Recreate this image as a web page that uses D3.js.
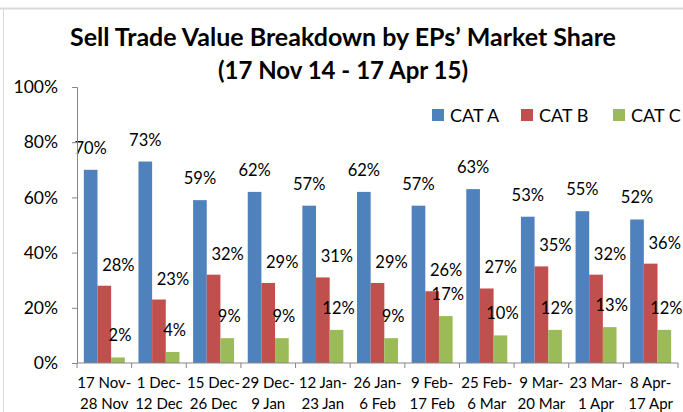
<!DOCTYPE html>
<html>
<head>
<meta charset="utf-8">
<script src="https://cdn.jsdelivr.net/npm/d3@7"></script>
<style>
  body { margin: 0; background: #fff; }
  svg { display: block; font-family: Lato, "Open Sans", sans-serif; }
</style>
</head>
<body>
<div class="container"></div>
<script>
const periodStart = ["17 Nov-", "1 Dec-", "15 Dec-", "29 Dec-", "12 Jan-", "26 Jan-", "9 Feb-", "25 Feb-", "9 Mar-", "23 Mar-", "8 Apr-"];
const periodEnd = ["28 Nov", "12 Dec", "26 Dec", "9 Jan", "23 Jan", "6 Feb", "17 Feb", "6 Mar", "20 Mar", "1 Apr", "17 Apr"];
const seriesNames = ["CAT A", "CAT B", "CAT C"];
const catA = [70, 73, 59, 62, 57, 62, 57, 63, 53, 55, 52];
const catB = [28, 23, 32, 29, 31, 29, 26, 27, 35, 32, 36];
const catC = [2, 4, 9, 9, 12, 9, 17, 10, 12, 13, 12];
const yTicks = [0, 20, 40, 60, 80, 100];

const w = 683, h = 412;
const margin = { top: 87, bottom: 49, left: 77, right: 5 };
const colors = ["#4F81BD", "#C0504D", "#9BBB59"];
// label nudges per series (dx from bar centre, dy above bar top)
const labelOffset = [{ dx: 0, dy: 16 }, { dx: 14, dy: 15 }, { dx: 2, dy: 16 }];

const rows = periodStart.map((p, i) => ({
  key: i,
  values: [catA[i], catB[i], catC[i]]
}));

const svg = d3.select(".container")
  .append("svg")
  .attr("width", w)
  .attr("height", h)
  .attr("viewBox", [0, 0, w, h]);

// chart frame edges
svg.append("line").attr("x1", 0).attr("x2", w).attr("y1", 8.5).attr("y2", 8.5)
  .attr("stroke", "#d9d9d9").attr("stroke-width", 2);
svg.append("line").attr("x1", 3.5).attr("x2", 3.5).attr("y1", 8).attr("y2", h)
  .attr("stroke", "#d9d9d9").attr("stroke-width", 1);

const x0 = d3.scaleBand()
  .domain(d3.range(periodStart.length))
  .range([margin.left, w - margin.right])
  .paddingInner(0).paddingOuter(0);

const x1 = d3.scaleBand()
  .domain(d3.range(seriesNames.length))
  .range([0, x0.bandwidth()])
  .paddingInner(0).paddingOuter(0.5);

const y = d3.scaleLinear()
  .domain([0, 100])
  .range([h - margin.bottom, margin.top]);

// title
svg.append("text")
  .attr("x", 343).attr("y", 46)
  .attr("text-anchor", "middle")
  .attr("font-weight", "bold").attr("font-size", 25)
  .text("Sell Trade Value Breakdown by EPs\u2019 Market Share");
svg.append("text")
  .attr("x", 343).attr("y", 79)
  .attr("text-anchor", "middle")
  .attr("font-weight", "bold").attr("font-size", 24)
  .text("(17 Nov 14 - 17 Apr 15)");

// bars
const groups = svg.append("g").selectAll("g")
  .data(rows)
  .join("g")
  .attr("transform", d => `translate(${x0(d.key)},0)`);

groups.selectAll("rect")
  .data(d => d.values.map((v, s) => ({ v, s })))
  .join("rect")
  .attr("x", d => x1(d.s))
  .attr("y", d => y(d.v))
  .attr("width", x1.bandwidth())
  .attr("height", d => y(0) - y(d.v))
  .attr("fill", d => colors[d.s]);

groups.selectAll("text")
  .data(d => d.values.map((v, s) => ({ v, s })))
  .join("text")
  .attr("x", d => x1(d.s) + x1.bandwidth() / 2 + labelOffset[d.s].dx)
  .attr("y", d => y(d.v) - labelOffset[d.s].dy)
  .attr("text-anchor", "middle")
  .attr("font-size", 16.5)
  .attr("fill", "#000")
  .text(d => d.v + "%");

// y axis
const yAxis = svg.append("g")
  .attr("transform", `translate(${margin.left},0)`)
  .call(d3.axisLeft(y).tickValues(yTicks).tickFormat(d => d + "%").tickSize(5).tickPadding(14));
yAxis.select(".domain").attr("stroke", "#868686");
yAxis.selectAll(".tick line").attr("stroke", "#868686");
yAxis.selectAll(".tick text").attr("font-size", 17.5).attr("font-family", "Lato").attr("fill", "#000");

// x axis with ticks at category boundaries
const xAxis = svg.append("g")
  .attr("transform", `translate(0,${y(0)})`);
xAxis.append("line")
  .attr("x1", margin.left).attr("x2", w - margin.right)
  .attr("stroke", "#868686");
xAxis.selectAll(".bound")
  .data(d3.range(periodStart.length + 1))
  .join("line")
  .attr("class", "bound")
  .attr("x1", i => i < periodStart.length ? x0(i) : x0(i - 1) + x0.bandwidth())
  .attr("x2", i => i < periodStart.length ? x0(i) : x0(i - 1) + x0.bandwidth())
  .attr("y1", 0).attr("y2", 5)
  .attr("stroke", "#868686");
const xl = xAxis.selectAll(".xl")
  .data(d3.range(periodStart.length))
  .join("text")
  .attr("class", "xl")
  .attr("text-anchor", "middle")
  .attr("font-size", 15);
xl.append("tspan")
  .attr("x", i => x0(i) + x0.bandwidth() / 2).attr("y", 25)
  .text(i => periodStart[i]);
xl.append("tspan")
  .attr("x", i => x0(i) + x0.bandwidth() / 2).attr("y", 46)
  .text(i => periodEnd[i]);

// legend
const legendX = [432, 521, 613];
const legend = svg.append("g").selectAll("g")
  .data(seriesNames)
  .join("g")
  .attr("transform", (d, i) => `translate(${legendX[i]},109)`);
legend.append("rect").attr("width", 12).attr("height", 12).attr("fill", (d, i) => colors[i]);
legend.append("text").attr("x", 18).attr("y", 12.5).attr("font-size", 18).text(d => d);
</script>
</body>
</html>
